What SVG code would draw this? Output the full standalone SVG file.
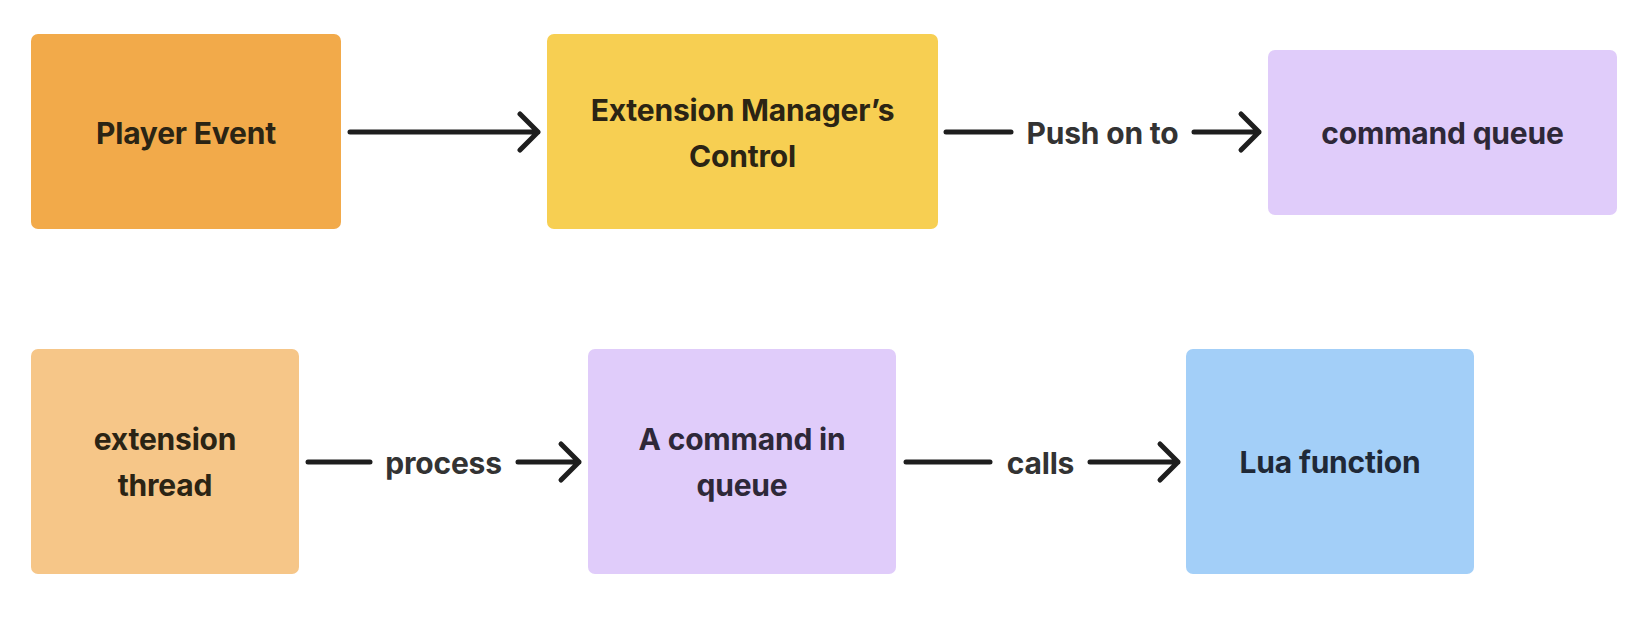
<svg xmlns="http://www.w3.org/2000/svg" width="1634" height="618" viewBox="0 0 1634 618">
<style>
.box{rx:7px;ry:7px}
.t{font-family:Inter,"Noto Sans",sans-serif;font-weight:700;font-size:30px;letter-spacing:-0.2px;text-anchor:middle}
.lbl{font-family:Inter,"Noto Sans",sans-serif;font-weight:700;font-size:30px;letter-spacing:-0.2px;fill:#333333;text-anchor:middle}
.ln{stroke:#1e1e1e;stroke-width:5;stroke-linecap:round;stroke-linejoin:round;fill:none}
</style>
<rect width="1634" height="618" fill="#ffffff"/>
<g id="player-event">
<rect class="box" x="31" y="34" width="310" height="195" fill="#f2aa4a"/>
<text class="t" x="186" y="144" fill="#2b2414">Player Event</text>
</g>
<g id="extension-manager">
<rect class="box" x="547" y="34" width="391" height="195" fill="#f7cf52"/>
<text class="t" x="742.5" y="121" fill="#2b2414">Extension Manager’s</text>
<text class="t" x="742.5" y="167" fill="#2b2414">Control</text>
</g>
<g id="command-queue">
<rect class="box" x="1268" y="50" width="349" height="165" fill="#e0ccfa"/>
<text class="t" x="1442.5" y="144" fill="#2e2838">command queue</text>
</g>
<g id="extension-thread">
<rect class="box" x="31" y="349" width="268" height="225" fill="#f6c688"/>
<text class="t" x="165" y="450" fill="#2b2414">extension</text>
<text class="t" x="165" y="496" fill="#2b2414">thread</text>
</g>
<g id="command-in-queue">
<rect class="box" x="588" y="349" width="308" height="225" fill="#e0ccfa"/>
<text class="t" x="742" y="450" fill="#2e2838">A command in</text>
<text class="t" x="742" y="496" fill="#2e2838">queue</text>
</g>
<g id="lua-function">
<rect class="box" x="1186" y="349" width="288" height="225" fill="#a3cff8"/>
<text class="t" x="1330" y="473" fill="#1f2937">Lua function</text>
</g>
<g id="connectors">
<path class="ln" d="M350 132 H538 M520 114 L538 132 L520 150"/>
<path class="ln" d="M946 132 H1011"/>
<text class="lbl" x="1102.5" y="144">Push on to</text>
<path class="ln" d="M1194 132 H1259 M1241 114 L1259 132 L1241 150"/>
<path class="ln" d="M308 462 H370"/>
<text class="lbl" x="443.5" y="474">process</text>
<path class="ln" d="M518 462 H579 M561 444 L579 462 L561 480"/>
<path class="ln" d="M906 462 H990"/>
<text class="lbl" x="1040.5" y="474">calls</text>
<path class="ln" d="M1090 462 H1178 M1160 444 L1178 462 L1160 480"/>
</g>
</svg>
